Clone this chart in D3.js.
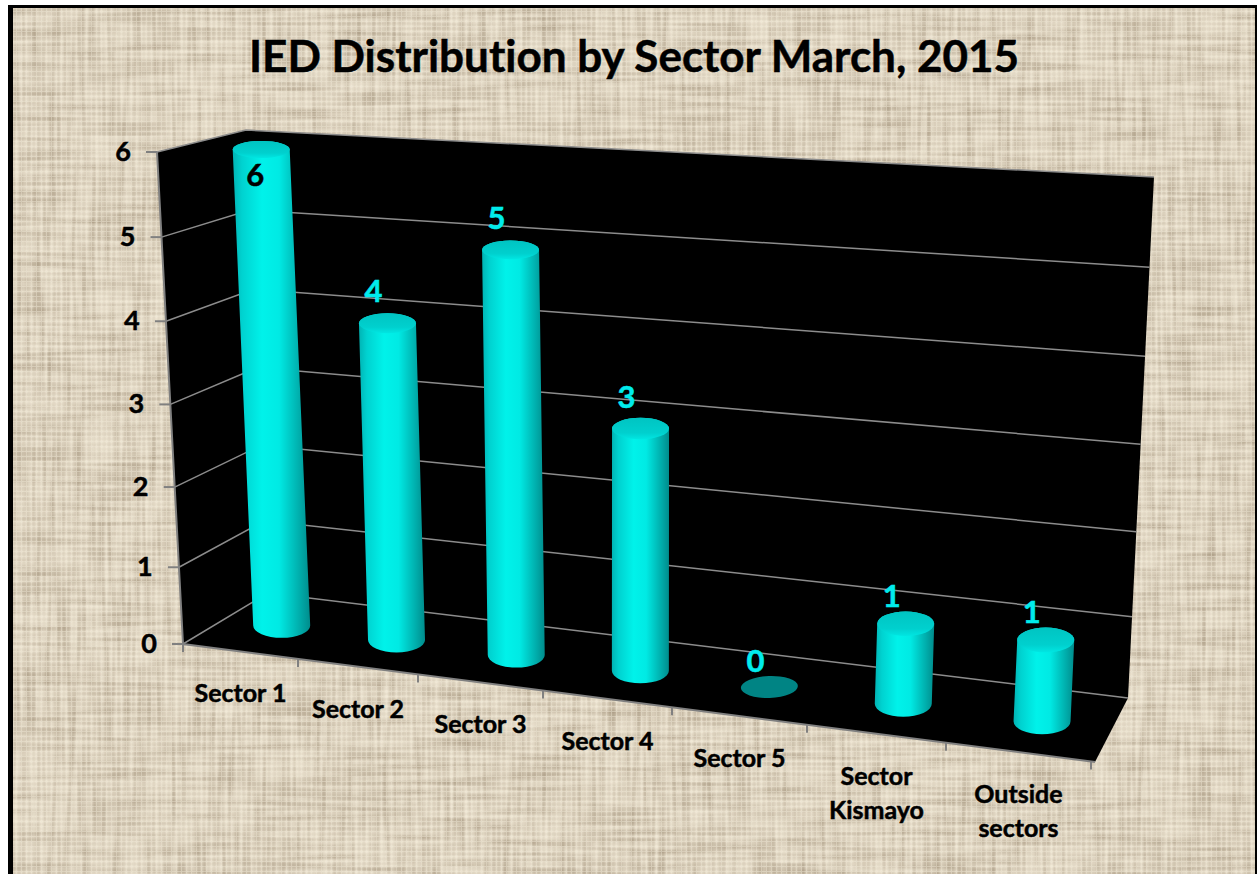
<!DOCTYPE html>
<html><head><meta charset="utf-8">
<script src="https://cdn.jsdelivr.net/npm/d3@7"></script>
<style>html,body{margin:0;padding:0;background:#fff;overflow:hidden}svg{display:block}text{font-family:Lato,"Open Sans",sans-serif;font-weight:700;stroke:currentColor;stroke-width:.5px;font-variant-ligatures:none}</style>
</head><body><script>
const titleText = "IED Distribution by Sector March, 2015";
const categories = ["Sector 1","Sector 2","Sector 3","Sector 4","Sector 5","Sector Kismayo","Outside sectors"];
const values = [6,4,5,3,0,1,1];
const valueTicks = [0,1,2,3,4,5,6];

const W = 1257, H = 874;
// perspective box: value plane corners at front / back, floor / top
const corners = {
  frontFloor:[[183,644],[1095,762]], frontTop:[[157,152],[1125,222]],
  backFloor:[[268,593],[1128,698]],  backTop:[[246,130],[1154,177]]
};
const uScale = d3.scaleLinear().domain(d3.range(8)).range([183,298,418,543,672,807,946,1091].map(x=>(x-183)/912));
const vScale = d3.scaleLinear().domain(valueTicks).range([0,.156,.319,.487,.656,.827,1]);
const labelGap = d3.scaleLinear().domain([0,1,3,6]).range([-15,-17,-21,-21]);
const lerp=(a,b,t)=>a+(b-a)*t, lerp2=(a,b,t)=>[lerp(a[0],b[0],t),lerp(a[1],b[1],t)];
function P(u,val,d,vk=1){
  const v=vScale(val)*vk;
  const ff=lerp2(corners.frontFloor[0],corners.frontFloor[1],u), ft=lerp2(corners.frontTop[0],corners.frontTop[1],u);
  const bf=lerp2(corners.backFloor[0],corners.backFloor[1],u), bt=lerp2(corners.backTop[0],corners.backTop[1],u);
  return lerp2(lerp2(ff,ft,v),lerp2(bf,bt,v),d);
}
const ryScale=d3.scaleLinear().domain([140,720]).range([8.5,13]);
const rx=28.5;

const svg=d3.select("body").append("svg").attr("width",W).attr("height",H);
const defs=svg.append("defs");
function threadFilter(id,freq,seed,rgb,k,c){
  const f=defs.append("filter").attr("id",id).attr("x",0).attr("y",0).attr("width","100%").attr("height","100%").attr("color-interpolation-filters","sRGB");
  f.append("feTurbulence").attr("type","fractalNoise").attr("baseFrequency",freq).attr("numOctaves",1).attr("seed",seed);
  f.append("feColorMatrix").attr("type","matrix").attr("values",`0 0 0 0 ${rgb[0]} 0 0 0 0 ${rgb[1]} 0 0 0 0 ${rgb[2]} ${k} 0 0 0 ${c}`);
  f.append("feGaussianBlur").attr("stdDeviation",.5);
}
threadFilter("thH","0.012 0.2",3,[.55,.48,.38],3.0,-1.3);
threadFilter("thV","0.2 0.012",7,[.55,.48,.38],3.0,-1.3);
threadFilter("liH","0.015 0.22",11,[.97,.94,.87],3.0,-1.3);
threadFilter("liV","0.22 0.015",17,[.97,.94,.87],3.0,-1.3);
const weave=defs.append("pattern").attr("id","weave").attr("width",5).attr("height",5).attr("patternUnits","userSpaceOnUse");
weave.append("path").attr("d","M0,1.5H5M1.5,0V5").attr("stroke","#f3ecdc").attr("stroke-width",1.2).attr("opacity",.45);
weave.append("path").attr("d","M0,4H5M4,0V5").attr("stroke","#b9ad97").attr("stroke-width",.9).attr("opacity",.22);
const cyl=defs.append("linearGradient").attr("id","cyl");
[[0,"#00b4b4"],[.12,"#00d2d0"],[.38,"#00f2ea"],[.6,"#00eae4"],[.85,"#00b0ae"],[1,"#008c8c"]].forEach(s=>cyl.append("stop").attr("offset",s[0]).attr("stop-color",s[1]));
const cap=defs.append("linearGradient").attr("id","cap").attr("x1",0).attr("y1",0).attr("x2",0).attr("y2",1);
[[0,"#00c4c2"],[.7,"#00d0ce"],[1,"#00e6e2"]].forEach(s=>cap.append("stop").attr("offset",s[0]).attr("stop-color",s[1]));

// page
svg.append("rect").attr("x",8).attr("y",5).attr("width",W-8).attr("height",H-5).attr("fill","#000");
const bg=svg.append("g");
const bx=13,by=8,bw=W-13-2,bh=H-8;
bg.append("rect").attr("x",bx).attr("y",by).attr("width",bw).attr("height",bh).attr("fill","#e2d8c5");
["thH","thV","liH","liV"].forEach(id=>bg.append("rect").attr("x",bx).attr("y",by).attr("width",bw).attr("height",bh).attr("filter",`url(#${id})`).attr("opacity",.4));
bg.append("rect").attr("x",bx).attr("y",by).attr("width",bw).attr("height",bh).attr("fill","url(#weave)");

const line=d3.line();
const plot=svg.append("g");
// walls & floor
plot.append("path").attr("d",line([P(0,0,0),P(0,6,0),P(0,6,1),P(1,6,1),P(1,0,1),P(1,0,0)])+"Z").attr("fill","#000");
const grid=plot.append("g").attr("fill","none").attr("stroke","#8c8c8c").attr("stroke-width",1.5);
valueTicks.forEach(t=>{
  grid.append("path").attr("d",line([P(0,t,0),P(0,t,1),P(1,t,1)]));
});
// axis edges
const edge=plot.append("g").attr("fill","none").attr("stroke","#808080").attr("stroke-width",2);
edge.append("path").attr("d",line([P(0,6,0),P(0,0,0),P(1,0,0)]));
// value ticks + labels
valueTicks.forEach(t=>{
  const p=P(0,t,0);
  edge.append("line").attr("x1",p[0]-11).attr("x2",p[0]).attr("y1",p[1]).attr("y2",p[1]);
  plot.append("text").attr("x",p[0]-34).attr("y",p[1]+9).attr("text-anchor","middle").attr("font-size",27).attr("color","#000").attr("fill","#000").text(t);
});
// category ticks
d3.range(8).forEach(i=>{
  const p=P(uScale(i),0,0);
  edge.append("line").attr("x1",p[0]).attr("x2",p[0]).attr("y1",p[1]).attr("y2",p[1]+8);
});
// category labels
categories.forEach((c,i)=>{
  const p=P(uScale(i+.5),0,0);
  const parts=i<5?[c]:c.split(" ");
  const t=plot.append("text").attr("text-anchor","middle").attr("font-size",25).attr("color","#000").attr("fill","#000");
  parts.forEach((s,j)=>t.append("tspan").attr("x",p[0]).attr("y",p[1]+51+j*34).text(s));
});
// cylinders
const bars=plot.append("g");
values.forEach((val,i)=>{
  const u=uScale(i+.5)*1.006, b=P(u,0,.5), tp=P(u,val,.5,.99);
  const rb=ryScale(b[1]), rt=ryScale(tp[1]);
  if(val===0){
    bars.append("ellipse").attr("cx",b[0]).attr("cy",b[1]).attr("rx",rx).attr("ry",11).attr("fill","#008484")
      .attr("transform",`rotate(-2 ${b[0]} ${b[1]})`);
  } else {
    const d=`M${tp[0]-rx},${tp[1]}L${b[0]-rx},${b[1]}A${rx},${rb} 0 0 0 ${b[0]+rx},${b[1]}L${tp[0]+rx},${tp[1]}A${rx},${rt} 0 0 0 ${tp[0]-rx},${tp[1]}Z`;
    bars.append("path").attr("d",d).attr("fill","url(#cyl)");
    bars.append("ellipse").attr("cx",tp[0]).attr("cy",tp[1]).attr("rx",rx).attr("ry",rt).attr("fill","url(#cap)");
  }
  const inside=val===6;
  const col=inside?"#000":"#00ecec";
  bars.append("text").attr("text-anchor","middle").attr("font-size",31)
    .attr("x",tp[0]+(inside?-6:-14)).attr("y",tp[1]+(inside?36:labelGap(val)))
    .attr("color",col).attr("fill",col).text(val);
});
svg.append("text").attr("x",634).attr("y",72).attr("text-anchor","middle").attr("font-size",44).attr("color","#000").attr("fill","#000").text(titleText);
</script></body></html>
